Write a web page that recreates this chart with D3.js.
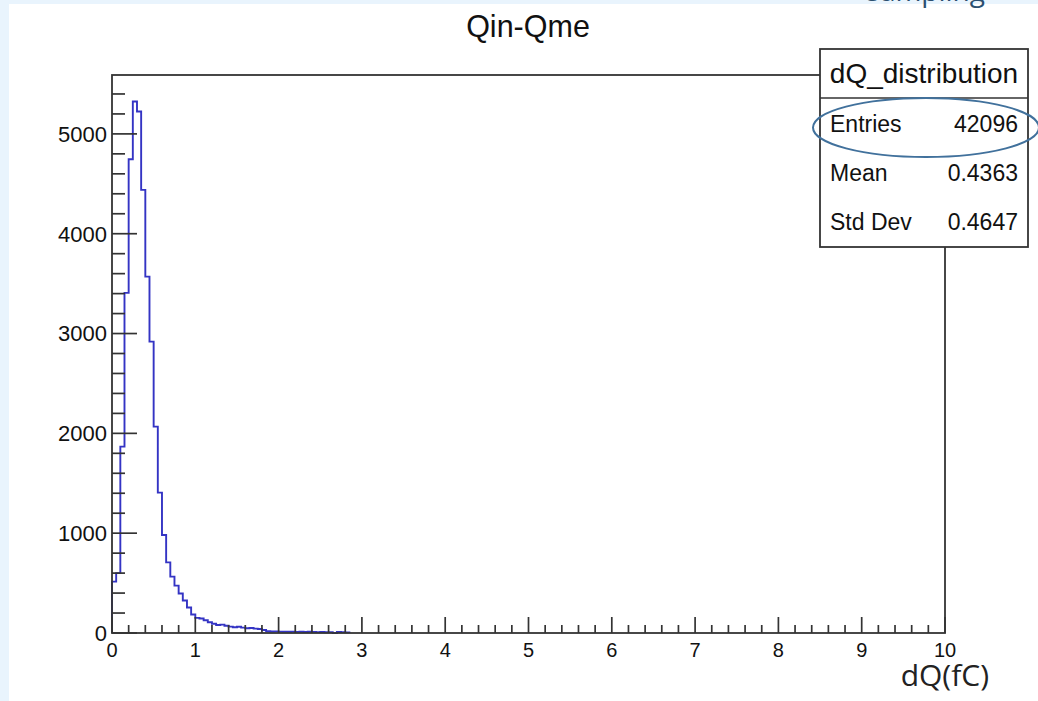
<!DOCTYPE html>
<html>
<head>
<meta charset="utf-8">
<script src="https://cdn.jsdelivr.net/npm/d3@7"></script>
<style>
  html, body { margin: 0; padding: 0; background: #e9f4fd; }
  svg { display: block; }
</style>
</head>
<body>
<svg id="chart" width="1038" height="701"></svg>
<script>
// dQ = Qin - Qme histogram, 0.05 fC bins starting at 0
const binStart = 0;
const binWidth = 0.05;
const counts = [
  515, 600, 1867, 3407, 4746, 5324, 5224, 4439, 3570, 2919,
  2067, 1406, 982, 708, 565, 475, 395, 325, 255, 185,
  152, 145, 128, 108, 92, 80, 84, 72, 64, 58,
  62, 54, 48, 50, 44, 40, 30, 18, 15, 16,
  14, 13, 12, 14, 11, 12, 10, 12, 11, 9,
  10, 8, 9, 0, 10, 9, 6
];

const xTickValues = [0, 1, 2, 3, 4, 5, 6, 7, 8, 9, 10];
const yTickValues = [0, 1000, 2000, 3000, 4000, 5000];

const statNames = ["Entries", "Mean", "Std Dev"];
const statValues = ["42096", "0.4363", "0.4647"];

const title = "Qin-Qme";
const statsTitle = "dQ_distribution";
const xTitle = "dQ(fC)";
const cornerText = "sampling";

const rootFont = "'Liberation Sans', Arial, Helvetica, sans-serif";
const slideFont = "'Open Sans', 'Noto Sans', sans-serif";

const svg = d3.select("#chart");

// page: pale blue slide edge, white picture area
svg.append("rect").attr("x", 0).attr("y", 0).attr("width", 1038).attr("height", 701).attr("fill", "#e9f4fd");
svg.append("rect").attr("x", 9).attr("y", 4).attr("width", 1029).attr("height", 697).attr("fill", "#ffffff");

svg.append("text")
  .attr("x", 985).attr("y", 1)
  .attr("text-anchor", "end")
  .attr("font-family", slideFont)
  .attr("font-size", 28)
  .attr("fill", "#2b4f70")
  .text(cornerText);

// plot frame
const frameL = 112, frameR = 945, frameT = 75, frameB = 633;
const x = d3.scaleLinear().domain([0, 10]).range([frameL, frameR]);
const y = d3.scaleLinear().domain([0, 5590]).range([frameB, frameT]);

// histogram outline (step)
let pathD = `M${x(binStart)},${y(0)}`;
counts.forEach((c, i) => {
  const x1 = x(binStart + (i + 1) * binWidth);
  pathD += `V${y(c)}H${x1}`;
});
pathD += `V${y(0)}`;
svg.append("path")
  .attr("d", pathD)
  .attr("fill", "none")
  .attr("stroke", "#3434c4")
  .attr("stroke-width", 1.9);

// axes ticks
const axisColor = "#333333";
const g = svg.append("g");

// x ticks: majors every 1, minors every 0.2
const xMinor = d3.range(0, 10.0001, 0.2);
xMinor.forEach(v => {
  const isMajor = Math.abs(v - Math.round(v)) < 1e-6;
  g.append("line")
    .attr("x1", x(v)).attr("x2", x(v))
    .attr("y1", frameB).attr("y2", frameB - (isMajor ? 16 : 8))
    .attr("stroke", axisColor).attr("stroke-width", 1.7);
});
// y ticks: majors every 1000, minors every 200
const yMinor = d3.range(0, 5590, 200);
yMinor.forEach(v => {
  const isMajor = v % 1000 === 0;
  g.append("line")
    .attr("x1", frameL).attr("x2", frameL + (isMajor ? 25 : 13))
    .attr("y1", y(v)).attr("y2", y(v))
    .attr("stroke", axisColor).attr("stroke-width", 1.7);
});

// frame
g.append("rect")
  .attr("x", frameL).attr("y", frameT)
  .attr("width", frameR - frameL).attr("height", frameB - frameT)
  .attr("fill", "none")
  .attr("stroke", axisColor).attr("stroke-width", 1.8);

// tick labels
g.selectAll(".xl").data(xTickValues).enter().append("text")
  .attr("x", d => x(d)).attr("y", 657)
  .attr("text-anchor", "middle")
  .attr("font-family", rootFont).attr("font-size", 20)
  .attr("fill", "#111")
  .text(d => d);

g.selectAll(".yl").data(yTickValues).enter().append("text")
  .attr("x", 107).attr("y", d => y(d))
  .attr("dy", "0.36em")
  .attr("text-anchor", "end")
  .attr("font-family", rootFont).attr("font-size", 22)
  .attr("fill", "#111")
  .text(d => d);

// title
svg.append("text")
  .attr("x", 528).attr("y", 37)
  .attr("text-anchor", "middle")
  .attr("font-family", rootFont).attr("font-size", 30.5)
  .attr("fill", "#111")
  .text(title);

// x axis title
svg.append("text")
  .attr("x", 989).attr("y", 686)
  .attr("text-anchor", "end")
  .attr("font-family", slideFont).attr("font-size", 30)
  .attr("fill", "#222")
  .text(xTitle);

// statistics box
const bx = 820, by = 49, bw = 208, bh = 198, headerH = 49;
const sb = svg.append("g");
sb.append("rect")
  .attr("x", bx).attr("y", by).attr("width", bw).attr("height", bh)
  .attr("fill", "#ffffff").attr("stroke", axisColor).attr("stroke-width", 1.8);
sb.append("line")
  .attr("x1", bx).attr("x2", bx + bw)
  .attr("y1", by + headerH).attr("y2", by + headerH)
  .attr("stroke", axisColor).attr("stroke-width", 1.6);
sb.append("text")
  .attr("x", bx + bw / 2).attr("y", 83)
  .attr("text-anchor", "middle")
  .attr("font-family", rootFont).attr("font-size", 28)
  .attr("fill", "#111")
  .text(statsTitle);
const rowBase = [132, 181, 230];
statNames.forEach((n, i) => {
  sb.append("text")
    .attr("x", 830).attr("y", rowBase[i])
    .attr("font-family", rootFont).attr("font-size", 23)
    .attr("fill", "#111")
    .text(n);
  sb.append("text")
    .attr("x", 1018).attr("y", rowBase[i])
    .attr("text-anchor", "end")
    .attr("font-family", rootFont).attr("font-size", 23)
    .attr("fill", "#111")
    .text(statValues[i]);
});

// highlight around the entries count
svg.append("ellipse")
  .attr("cx", 926).attr("cy", 127.5)
  .attr("rx", 113).attr("ry", 29.5)
  .attr("fill", "none")
  .attr("stroke", "#41719c")
  .attr("stroke-width", 2);
</script>
</body>
</html>
